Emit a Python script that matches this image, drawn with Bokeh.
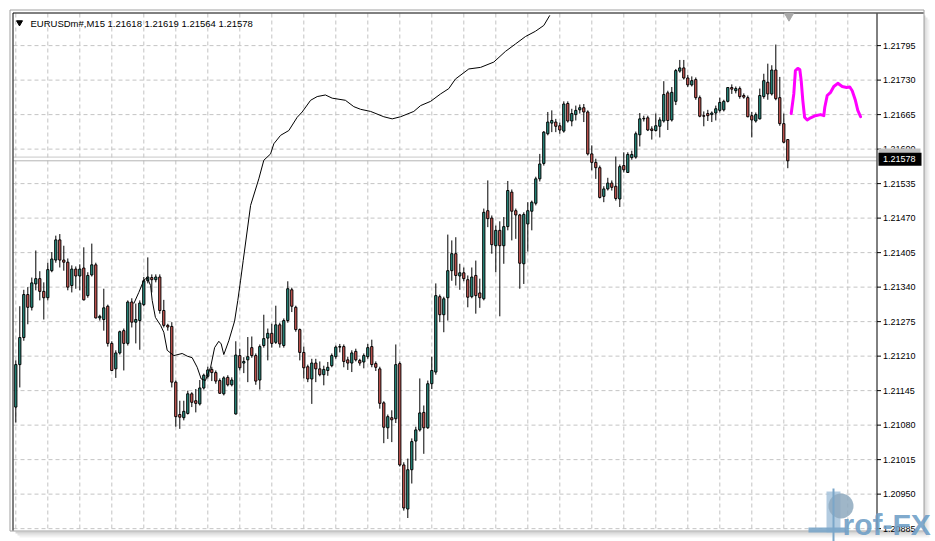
from bokeh.plotting import figure
from bokeh.models import Range1d, ColumnDataSource
from bokeh.core.properties import value
from bokeh.embed import file_html
from bokeh.resources import INLINE

symbol = "EURUSDm#"
period = "M15"

open_ = [1.21114, 1.21194, 1.21245, 1.21326, 1.21302, 1.21346, 1.21356, 1.21332, 1.21320, 1.21371,
         1.21391, 1.21429, 1.21391, 1.21387, 1.21343, 1.21374, 1.21361, 1.21376, 1.21324, 1.21363,
         1.21382, 1.21282, 1.21279, 1.21304, 1.21234, 1.21186, 1.21216, 1.21258, 1.21234, 1.21312,
         1.21274, 1.21277, 1.21307, 1.21352, 1.21358, 1.21354, 1.21359, 1.21296, 1.21268, 1.21266,
         1.21161, 1.21100, 1.21094, 1.21102, 1.21139, 1.21126, 1.21120, 1.21150, 1.21172, 1.21185,
         1.21179, 1.21164, 1.21139, 1.21170, 1.21156, 1.21101, 1.21211, 1.21197, 1.21203, 1.21226,
         1.21211, 1.21165, 1.21230, 1.21244, 1.21253, 1.21236, 1.21269, 1.21230, 1.21277, 1.21335,
         1.21302, 1.21260, 1.21217, 1.21190, 1.21167, 1.21197, 1.21186, 1.21175, 1.21183, 1.21192,
         1.21209, 1.21227, 1.21228, 1.21203, 1.21197, 1.21219, 1.21202, 1.21199, 1.21209, 1.21228,
         1.21196, 1.21186, 1.21122, 1.21075, 1.21094, 1.21092, 1.21196, 1.21005, 1.20922, 1.20996,
         1.21050, 1.21071, 1.21104, 1.21075, 1.21158, 1.21180, 1.21322, 1.21288, 1.21320, 1.21371,
         1.21403, 1.21361, 1.21367, 1.21354, 1.21322, 1.21362, 1.21329, 1.21318, 1.21484, 1.21470,
         1.21418, 1.21447, 1.21418, 1.21454, 1.21519, 1.21484, 1.21476, 1.21384, 1.21459, 1.21483,
         1.21498, 1.21544, 1.21573, 1.21629, 1.21649, 1.21651, 1.21644, 1.21634, 1.21686, 1.21653,
         1.21665, 1.21674, 1.21678, 1.21670, 1.21591, 1.21575, 1.21565, 1.21511, 1.21525, 1.21536,
         1.21530, 1.21506, 1.21569, 1.21556, 1.21584, 1.21585, 1.21627, 1.21657, 1.21659, 1.21638,
         1.21635, 1.21643, 1.21653, 1.21706, 1.21655, 1.21690, 1.21747, 1.21753, 1.21734, 1.21721,
         1.21731, 1.21697, 1.21663, 1.21667, 1.21665, 1.21668, 1.21673, 1.21674, 1.21690, 1.21716,
         1.21710, 1.21714, 1.21701, 1.21697, 1.21663, 1.21653, 1.21657, 1.21699, 1.21726, 1.21704,
         1.21749, 1.21697, 1.21648, 1.21618]
high = [1.21202, 1.21304, 1.21335, 1.21340, 1.21358, 1.21409, 1.21370, 1.21349, 1.21386, 1.21406,
        1.21437, 1.21440, 1.21418, 1.21394, 1.21381, 1.21379, 1.21383, 1.21415, 1.21368, 1.21422,
        1.21386, 1.21288, 1.21337, 1.21307, 1.21238, 1.21221, 1.21258, 1.21262, 1.21315, 1.21319,
        1.21309, 1.21315, 1.21359, 1.21396, 1.21364, 1.21364, 1.21364, 1.21316, 1.21271, 1.21274,
        1.21164, 1.21126, 1.21126, 1.21145, 1.21142, 1.21148, 1.21165, 1.21177, 1.21190, 1.21190,
        1.21183, 1.21168, 1.21172, 1.21174, 1.21170, 1.21238, 1.21224, 1.21208, 1.21246, 1.21247,
        1.21215, 1.21232, 1.21288, 1.21262, 1.21271, 1.21305, 1.21273, 1.21281, 1.21351, 1.21339,
        1.21305, 1.21262, 1.21228, 1.21194, 1.21205, 1.21205, 1.21200, 1.21192, 1.21199, 1.21215,
        1.21230, 1.21233, 1.21232, 1.21209, 1.21221, 1.21224, 1.21205, 1.21215, 1.21233, 1.21241,
        1.21200, 1.21190, 1.21125, 1.21100, 1.21108, 1.21232, 1.21200, 1.21010, 1.21017, 1.21055,
        1.21077, 1.21168, 1.21117, 1.21164, 1.21209, 1.21347, 1.21326, 1.21322, 1.21439, 1.21428,
        1.21434, 1.21384, 1.21377, 1.21362, 1.21377, 1.21390, 1.21356, 1.21488, 1.21541, 1.21475,
        1.21456, 1.21464, 1.21472, 1.21540, 1.21524, 1.21488, 1.21478, 1.21481, 1.21500, 1.21503,
        1.21548, 1.21591, 1.21634, 1.21670, 1.21673, 1.21657, 1.21650, 1.21690, 1.21690, 1.21676,
        1.21682, 1.21684, 1.21685, 1.21673, 1.21607, 1.21582, 1.21569, 1.21530, 1.21546, 1.21541,
        1.21586, 1.21571, 1.21594, 1.21594, 1.21597, 1.21633, 1.21668, 1.21663, 1.21663, 1.21643,
        1.21667, 1.21660, 1.21728, 1.21710, 1.21717, 1.21751, 1.21768, 1.21768, 1.21740, 1.21737,
        1.21735, 1.21701, 1.21671, 1.21674, 1.21671, 1.21682, 1.21697, 1.21693, 1.21717, 1.21722,
        1.21718, 1.21718, 1.21705, 1.21701, 1.21670, 1.21669, 1.21714, 1.21742, 1.21761, 1.21758,
        1.21797, 1.21736, 1.21667, 1.21619]
low = [1.21085, 1.21151, 1.21239, 1.21270, 1.21296, 1.21334, 1.21315, 1.21279, 1.21315, 1.21368,
       1.21386, 1.21377, 1.21371, 1.21334, 1.21330, 1.21337, 1.21334, 1.21315, 1.21320, 1.21360,
       1.21281, 1.21277, 1.21258, 1.21228, 1.21182, 1.21169, 1.21213, 1.21183, 1.21230, 1.21264,
       1.21234, 1.21222, 1.21304, 1.21347, 1.21330, 1.21349, 1.21290, 1.21264, 1.21258, 1.21151,
       1.21077, 1.21073, 1.21089, 1.21100, 1.21114, 1.21104, 1.21117, 1.21147, 1.21168, 1.21163,
       1.21158, 1.21139, 1.21136, 1.21153, 1.21153, 1.21100, 1.21183, 1.21178, 1.21161, 1.21207,
       1.21156, 1.21147, 1.21226, 1.21202, 1.21226, 1.21233, 1.21226, 1.21226, 1.21273, 1.21293,
       1.21256, 1.21202, 1.21168, 1.21161, 1.21120, 1.21161, 1.21172, 1.21155, 1.21173, 1.21189,
       1.21205, 1.21217, 1.21189, 1.21184, 1.21180, 1.21200, 1.21192, 1.21187, 1.21205, 1.21189,
       1.21182, 1.21111, 1.21046, 1.21054, 1.21048, 1.21084, 1.21002, 1.20919, 1.20905, 1.20970,
       1.21013, 1.21068, 1.21026, 1.21073, 1.21148, 1.21175, 1.21274, 1.21255, 1.21277, 1.21352,
       1.21343, 1.21335, 1.21351, 1.21302, 1.21319, 1.21290, 1.21301, 1.21315, 1.21453, 1.21403,
       1.21368, 1.21285, 1.21384, 1.21447, 1.21428, 1.21431, 1.21337, 1.21346, 1.21407, 1.21447,
       1.21494, 1.21539, 1.21569, 1.21626, 1.21632, 1.21632, 1.21629, 1.21631, 1.21650, 1.21643,
       1.21654, 1.21667, 1.21651, 1.21588, 1.21560, 1.21544, 1.21507, 1.21500, 1.21522, 1.21522,
       1.21503, 1.21491, 1.21556, 1.21556, 1.21580, 1.21582, 1.21605, 1.21652, 1.21634, 1.21618,
       1.21633, 1.21622, 1.21650, 1.21636, 1.21652, 1.21683, 1.21744, 1.21731, 1.21717, 1.21718,
       1.21693, 1.21660, 1.21643, 1.21653, 1.21651, 1.21654, 1.21669, 1.21671, 1.21688, 1.21704,
       1.21705, 1.21695, 1.21695, 1.21660, 1.21622, 1.21650, 1.21656, 1.21695, 1.21693, 1.21701,
       1.21692, 1.21644, 1.21611, 1.21564]
close = [1.21194, 1.21245, 1.21326, 1.21302, 1.21348, 1.21356, 1.21332, 1.21320, 1.21373, 1.21393,
         1.21429, 1.21391, 1.21387, 1.21340, 1.21374, 1.21361, 1.21374, 1.21316, 1.21362, 1.21382,
         1.21282, 1.21285, 1.21301, 1.21234, 1.21183, 1.21216, 1.21256, 1.21234, 1.21312, 1.21274,
         1.21279, 1.21310, 1.21352, 1.21359, 1.21354, 1.21359, 1.21296, 1.21268, 1.21265, 1.21161,
         1.21096, 1.21095, 1.21106, 1.21139, 1.21123, 1.21121, 1.21150, 1.21174, 1.21184, 1.21179,
         1.21163, 1.21140, 1.21169, 1.21156, 1.21165, 1.21212, 1.21188, 1.21200, 1.21209, 1.21211,
         1.21163, 1.21228, 1.21243, 1.21253, 1.21234, 1.21269, 1.21233, 1.21277, 1.21337, 1.21304,
         1.21260, 1.21217, 1.21188, 1.21167, 1.21197, 1.21186, 1.21175, 1.21185, 1.21189, 1.21211,
         1.21227, 1.21228, 1.21200, 1.21197, 1.21216, 1.21203, 1.21197, 1.21211, 1.21226, 1.21194,
         1.21189, 1.21121, 1.21076, 1.21096, 1.21090, 1.21194, 1.21005, 1.20924, 1.20996, 1.21049,
         1.21071, 1.21103, 1.21075, 1.21158, 1.21183, 1.21324, 1.21288, 1.21318, 1.21371, 1.21403,
         1.21362, 1.21367, 1.21356, 1.21321, 1.21359, 1.21324, 1.21320, 1.21481, 1.21469, 1.21420,
         1.21447, 1.21418, 1.21454, 1.21522, 1.21483, 1.21476, 1.21385, 1.21477, 1.21484, 1.21500,
         1.21544, 1.21572, 1.21632, 1.21651, 1.21654, 1.21643, 1.21636, 1.21685, 1.21653, 1.21667,
         1.21673, 1.21678, 1.21670, 1.21591, 1.21575, 1.21565, 1.21509, 1.21525, 1.21536, 1.21528,
         1.21507, 1.21567, 1.21561, 1.21590, 1.21590, 1.21629, 1.21657, 1.21658, 1.21636, 1.21635,
         1.21644, 1.21655, 1.21703, 1.21654, 1.21707, 1.21748, 1.21753, 1.21734, 1.21721, 1.21729,
         1.21697, 1.21662, 1.21662, 1.21663, 1.21668, 1.21676, 1.21688, 1.21690, 1.21716, 1.21713,
         1.21714, 1.21699, 1.21698, 1.21661, 1.21655, 1.21665, 1.21701, 1.21729, 1.21704, 1.21749,
         1.21695, 1.21648, 1.21613, 1.21578]

# thin indicator line (bar position, price)
ma_bar = [29.5, 30.75, 32.0, 32.85, 33.7, 34.1, 34.9, 36.2, 37.0, 37.85, 39.5, 41.6, 42.85, 44.1,
          45.35, 46.35, 47.4, 48.7, 49.7, 50.75, 51.35, 52.0, 53.25, 54.7, 55.5, 56.2, 56.85, 58.7,
          60.75, 62.0, 63.7, 64.5, 66.2, 68.25, 70.35, 71.6, 73.7, 75.35, 77.4, 79.1, 82.4, 84.5,
          86.2, 88.7, 92.0, 94.1, 96.2, 99.5, 101.2, 103.7, 106.2, 108.25, 109.9, 113.25, 116.2,
          119.5, 122.4, 124.9, 127.4, 129.9, 132.0, 133.5]
ma_price = [1.21309, 1.21330, 1.21353, 1.21358, 1.21343, 1.21315, 1.21283, 1.21268, 1.21255,
            1.21221, 1.21211, 1.21215, 1.21210, 1.21207, 1.21189, 1.21167, 1.21164, 1.21189,
            1.21226, 1.21238, 1.21233, 1.21213, 1.21239, 1.21276, 1.21315, 1.21353, 1.21390,
            1.21494, 1.21544, 1.21579, 1.21591, 1.21610, 1.21626, 1.21635, 1.21660, 1.21670,
            1.21692, 1.21699, 1.21702, 1.21696, 1.21692, 1.21680, 1.21675, 1.21671, 1.21661,
            1.21657, 1.21661, 1.21671, 1.21682, 1.21690, 1.21704, 1.21714, 1.21732, 1.21751,
            1.21754, 1.21764, 1.21784, 1.21798, 1.21812, 1.21822, 1.21833, 1.21852]

# magenta projection (bar position, price)
fc_bar = [193.85, 194.5, 194.9, 195.5, 196.0, 196.35, 196.75, 197.2, 197.85, 198.7, 199.9, 201.2,
          202.0, 202.25, 202.85, 203.7, 204.5, 205.5, 206.6, 207.7, 208.5, 209.1, 209.9, 210.5, 211.2]
fc_price = [1.21667, 1.21704, 1.21748, 1.21752, 1.21750, 1.21729, 1.21692, 1.21660, 1.21655,
            1.21659, 1.21663, 1.21665, 1.21663, 1.21679, 1.21701, 1.21707, 1.21718, 1.21724,
            1.21718, 1.21716, 1.21717, 1.21710, 1.21692, 1.21673, 1.21661]

price_ticks = [1.20885, 1.20950, 1.21015, 1.21080, 1.21145, 1.21210, 1.21275, 1.21340,
               1.21405, 1.21470, 1.21535, 1.21600, 1.21665, 1.21730, 1.21795]
tick_labels = ["1.20885", "1.20950", "1.21015", "1.21080", "1.21145", "1.21210", "1.21275",
               "1.21340", "1.21405", "1.21470", "1.21535", "1.21600", "1.21665", "1.21730", "1.21795"]
grid_bars = [0, 8, 16, 24, 32, 40, 48, 56, 64, 72, 80, 88, 96, 104, 112, 120, 128, 136, 144,
             152, 160, 168, 176, 184, 192, 200, 208]
bid_price = 1.21578
ask_price = 1.21585

# ---- view geometry (canvas = whole window) ----
W, H = 935, 541
BAR_PX = 4.0
X_LO = -15.3 / BAR_PX
X_HI = X_LO + W / BAR_PX
PPY = 0.00974 / 517.0
Y_HI = 1.218555 + 13 * PPY
Y_LO = Y_HI - H * PPY
CH_L, CH_T, CH_R, CH_B = 13, 13, 876, 530      # chart area (pixels)


def px2x(px):
    return X_LO + px / BAR_PX


def py2y(py):
    return Y_HI - py * PPY


UP = "#2b9a8c"
DOWN = "#e0605c"
GRID = "#c4c4c4"

bars = list(range(len(open_)))
src = ColumnDataSource(dict(
    x=bars, o=open_, h=high, l=low, c=close,
    top=[max(a, b) for a, b in zip(open_, close)],
    bottom=[min(a, b) for a, b in zip(open_, close)],
    color=[UP if c >= o else DOWN for o, c in zip(open_, close)],
))

p = figure(width=W, height=H, x_range=Range1d(X_LO, X_HI), y_range=Range1d(Y_LO, Y_HI),
           x_axis_type=None, y_axis_type=None, toolbar_location=None, output_backend="svg",
           min_border=0, min_border_left=0, min_border_right=0, min_border_top=0,
           min_border_bottom=0, background_fill_color="white", border_fill_color="white",
           outline_line_color=None)

# window shadow
for k, a in [(0, 0.30), (2, 0.18), (4, 0.09)]:
    p.quad(left=[px2x(CH_R + 47 + k)], right=[px2x(CH_R + 49 + k)],
           top=[py2y(15 + k)], bottom=[py2y(CH_B + 3 + k)],
           fill_color="#707070", fill_alpha=a, line_color=None)
    p.quad(left=[px2x(15 + k)], right=[px2x(CH_R + 47 + k)],
           top=[py2y(CH_B + 1 + k)], bottom=[py2y(CH_B + 3 + k)],
           fill_color="#707070", fill_alpha=a, line_color=None)
# window frame
p.quad(left=[px2x(9.5)], right=[px2x(CH_R + 47.5)], top=[py2y(9.5)], bottom=[py2y(CH_B + 0.5)],
       fill_color="white", line_color="#a0a0a0", line_width=1)

# grid
p.segment(x0=grid_bars, y0=[py2y(CH_T)] * len(grid_bars), x1=grid_bars,
          y1=[py2y(CH_B)] * len(grid_bars), line_color=GRID, line_dash="4 3", line_width=1)
p.segment(x0=[px2x(CH_L)] * len(price_ticks), y0=price_ticks,
          x1=[px2x(CH_R)] * len(price_ticks), y1=price_ticks,
          line_color=GRID, line_dash="4 3", line_width=1)

# bid / ask lines
p.segment(x0=[px2x(CH_L)] * 2, y0=[ask_price, bid_price], x1=[px2x(CH_R)] * 2,
          y1=[ask_price, bid_price], line_color=["#c8c8c8", "#b4b4b4"], line_width=1)

# candles
p.segment(x0="x", y0="l", x1="x", y1="h", source=src, line_color="black", line_width=1)
p.vbar(x="x", width=0.55, top="top", bottom="bottom", source=src,
       fill_color="color", line_color="black", line_width=1)

# indicator line and projection
p.line(ma_bar, ma_price, line_color="black", line_width=1)
p.line(fc_bar, fc_price, line_color="#ff00ff", line_width=3, line_join="round", line_cap="round")

# chart borders and price scale
p.segment(x0=[px2x(CH_L - 0.5), px2x(CH_L - 0.5), px2x(CH_R + 0.5)],
          y0=[py2y(CH_T - 0.5), py2y(CH_T - 0.5), py2y(CH_T)],
          x1=[px2x(CH_L - 0.5), px2x(CH_R + 47), px2x(CH_R + 0.5)],
          y1=[py2y(CH_B), py2y(CH_T - 0.5), py2y(CH_B)],
          line_color="black", line_width=1)
p.segment(x0=[px2x(CH_R + 0.5)] * len(price_ticks), y0=price_ticks,
          x1=[px2x(CH_R + 4.5)] * len(price_ticks), y1=price_ticks,
          line_color="black", line_width=1)
p.text(x=[px2x(CH_R + 6.5)] * len(price_ticks), y=price_ticks, text=tick_labels,
       text_font=value("Liberation Sans"), text_font_size=value("9px"),
       text_color="black", text_baseline="middle", text_align="left")

# ask / bid price boxes
half = 6.5 * PPY
p.quad(left=[px2x(CH_R + 2)], right=[px2x(CH_R + 44)], top=[ask_price + half + 2 * PPY],
       bottom=[ask_price - half + 2 * PPY], fill_color="#c0c0c0", line_color=None)
p.quad(left=[px2x(CH_R + 2)], right=[px2x(CH_R + 45)], top=[bid_price + half + 1.5 * PPY],
       bottom=[bid_price - half + 1.5 * PPY], fill_color="black", line_color=None)
p.text(x=[px2x(CH_R + 6.5)], y=[bid_price + 1.5 * PPY], text=["%.5f" % bid_price],
       text_font=value("Liberation Sans"), text_font_size=value("9px"),
       text_color="white", text_baseline="middle", text_align="left")

# chart-shift marker and header
p.scatter([px2x(788.5)], [py2y(15.5)], marker="inverted_triangle", size=9,
          fill_color="#a8a8a8", line_color="#a8a8a8")
p.scatter([px2x(19)], [py2y(22)], marker="inverted_triangle", size=6,
          fill_color="black", line_color="black")
header = "%s,%s  %.5f %.5f %.5f %.5f" % (symbol, period, open_[-1], high[-1], low[-1], close[-1])
p.text([px2x(30)], [py2y(23)], text=[header], text_font=value("Liberation Sans"),
       text_font_size=value("9.5px"), text_color="black", text_baseline="middle",
       text_align="left")

# watermark logo
p.quad(left=[px2x(826)], right=[px2x(840)], top=[py2y(491)], bottom=[py2y(532)],
       fill_color="#a5c2da", line_color=None, fill_alpha=0.85)
p.scatter([px2x(840.5)], [py2y(505.5)], marker="circle", size=25,
          fill_color="#8ea9be", line_color=None, fill_alpha=0.85)
p.quad(left=[px2x(808)], right=[px2x(845)], top=[py2y(527)], bottom=[py2y(532)],
       fill_color="#7ba6c9", line_color=None, fill_alpha=0.9)
p.segment([px2x(833)], [py2y(488)], [px2x(833)], [py2y(541)], line_color="#7ba6c9", line_width=2)
p.text([px2x(842)], [py2y(524)], text=["rof-FX"], text_font=value("Liberation Sans"),
       text_font_style="bold", text_font_size=value("30px"), text_color="#6e9ec6",
       text_alpha=0.9, text_baseline="middle", text_align="left")

open("out.html", "w").write(file_html(p, INLINE))
